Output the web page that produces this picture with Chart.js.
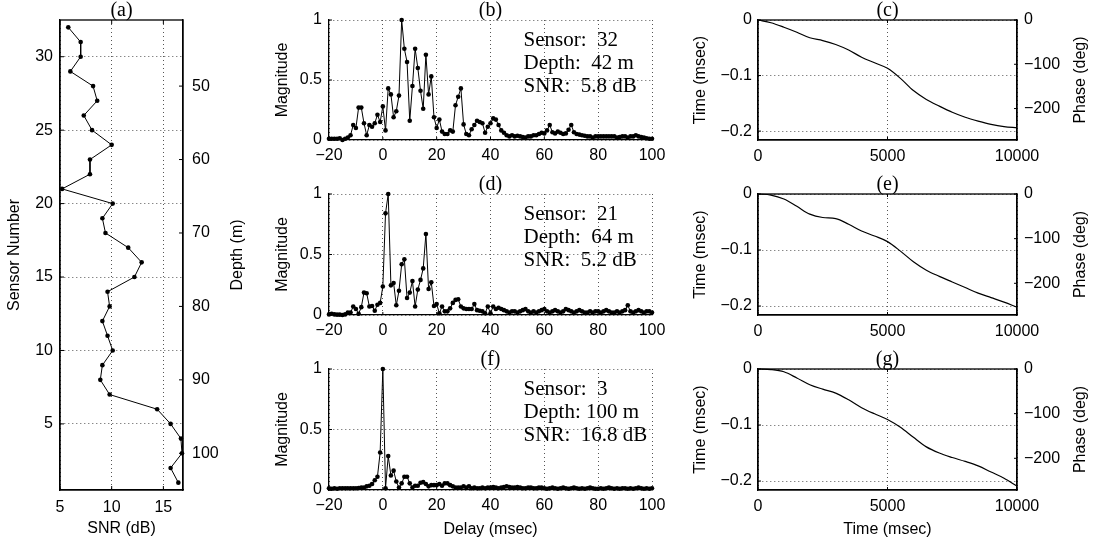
<!DOCTYPE html>
<html>
<head>
<meta charset="utf-8">
<script src="https://cdn.jsdelivr.net/npm/chart.js@4.4.1/dist/chart.umd.min.js"></script>
<style>
  body { margin: 0; background: #fff; width: 1097px; height: 544px; position: relative; overflow: hidden; }
  canvas { position: absolute; left: 0; top: 0; }
</style>
</head>
<body>
<canvas id="ca" width="1097" height="544"></canvas>
<canvas id="cb" width="1097" height="544"></canvas>
<canvas id="cd" width="1097" height="544"></canvas>
<canvas id="cf" width="1097" height="544"></canvas>
<canvas id="cc" width="1097" height="544"></canvas>
<canvas id="ce" width="1097" height="544"></canvas>
<canvas id="cg" width="1097" height="544"></canvas>
<script>
// ---- data ----
const sensors = [32, 31, 30, 29, 28, 27, 26, 25, 24, 23, 22, 21, 20, 19, 18, 17,
                 16, 15, 14, 13, 12, 11, 10, 9, 8, 7, 6, 5, 4, 3, 2, 1];
const snrDb = [5.8, 7.0, 7.0, 6.0, 8.2, 8.6, 7.3, 8.1, 10.0, 7.9, 7.9, 5.2, 10.1, 9.1, 9.4, 11.6,
               12.9, 12.2, 9.6, 9.8, 9.1, 9.6, 10.1, 9.1, 8.9, 9.8, 14.4, 15.7, 16.7, 16.8, 15.7, 16.45];

// delay axis, 1 msec sampling from -20 to 100
const delays = Array.from({ length: 121 }, (_, i) => i - 20);

const magB = [
  0.01, 0.01, 0.01, 0.01, 0.015, 0.0, 0.01, 0.02, 0.04, 0.125,   // -20
  0.10, 0.27, 0.27, 0.14, 0.04, 0.125, 0.11, 0.14, 0.21, 0.15,    // -10
  0.28, 0.08, 0.43, 0.38, 0.19, 0.24, 0.37, 1.0, 0.76, 0.65,      // 0
  0.16, 0.45, 0.76, 0.6, 0.41, 0.26, 0.71, 0.38, 0.53, 0.19,      // 10
  0.10, 0.17, 0.07, 0.05, 0.05, 0.08, 0.07, 0.29, 0.36, 0.43,     // 20
  0.13, 0.05, 0.04, 0.09, 0.125, 0.16, 0.15, 0.14, 0.06, 0.11,    // 30
  0.14, 0.18, 0.17, 0.125, 0.08, 0.06, 0.04, 0.03, 0.04, 0.03,    // 40
  0.035, 0.03, 0.025, 0.02, 0.03, 0.03, 0.04, 0.04, 0.05, 0.06,   // 50
  0.055, 0.08, 0.125, 0.065, 0.055, 0.07, 0.06, 0.05, 0.055, 0.085, // 60
  0.125, 0.065, 0.05, 0.045, 0.04, 0.035, 0.03, 0.03, 0.02, 0.03, // 70
  0.03, 0.03, 0.03, 0.03, 0.03, 0.03, 0.03, 0.02, 0.025, 0.03,    // 80
  0.03, 0.02, 0.03, 0.03, 0.04, 0.03, 0.025, 0.02, 0.015, 0.01,   // 90
  0.01                                                            // 100
];
const magD = [
  0.005, 0.01, 0.005, 0.003, 0.003, 0.0, 0.005, 0.02, 0.02, 0.07,
  0.05, 0.01, 0.065, 0.185, 0.18, 0.07, 0.075, 0.035, 0.085, 0.10,
  0.235, 0.84, 1.0, 0.245, 0.265, 0.08, 0.2, 0.42, 0.46, 0.14,
  0.185, 0.28, 0.07, 0.21, 0.29, 0.385, 0.67, 0.215, 0.27, 0.075,
  0.09, 0.015, 0.07, 0.03, 0.03, 0.055, 0.10, 0.125, 0.13, 0.07,
  0.055, 0.05, 0.05, 0.05, 0.09, 0.04, 0.035, 0.03, 0.015, 0.07,
  0.015, 0.07, 0.05, 0.06, 0.05, 0.04, 0.03, 0.02, 0.03, 0.03,
  0.02, 0.03, 0.04, 0.05, 0.03, 0.02, 0.03, 0.02, 0.03, 0.04,
  0.05, 0.03, 0.02, 0.03, 0.04, 0.03, 0.02, 0.03, 0.05, 0.04,
  0.03, 0.02, 0.03, 0.04, 0.03, 0.02, 0.02, 0.03, 0.02, 0.03,
  0.03, 0.02, 0.03, 0.04, 0.03, 0.02, 0.02, 0.03, 0.02, 0.03,
  0.04, 0.08, 0.03, 0.02, 0.03, 0.04, 0.03, 0.02, 0.03, 0.03,
  0.02
];
const magF = [
  0.015, 0.01, 0.015, 0.01, 0.015, 0.015, 0.015, 0.015, 0.015, 0.015,
  0.015, 0.017, 0.02, 0.02, 0.03, 0.035, 0.05, 0.08, 0.11, 0.31,
  1.0, 0.015, 0.28, 0.12, 0.16, 0.07, 0.02, 0.055, 0.11, 0.11,
  0.055, 0.02, 0.035, 0.035, 0.06, 0.065, 0.05, 0.03, 0.04, 0.04,
  0.04, 0.05, 0.035, 0.055, 0.055, 0.04, 0.03, 0.02, 0.02, 0.02,
  0.03, 0.02, 0.03, 0.015, 0.02, 0.015, 0.015, 0.02, 0.015, 0.02,
  0.02, 0.025, 0.02, 0.015, 0.02, 0.025, 0.03, 0.025, 0.02, 0.02,
  0.025, 0.02, 0.015, 0.015, 0.02, 0.02, 0.015, 0.015, 0.02, 0.02,
  0.015, 0.01, 0.015, 0.02, 0.015, 0.01, 0.015, 0.02, 0.015, 0.01,
  0.015, 0.02, 0.015, 0.01, 0.015, 0.01, 0.015, 0.02, 0.015, 0.01,
  0.01, 0.015, 0.01, 0.015, 0.02, 0.015, 0.01, 0.015, 0.01, 0.015,
  0.015, 0.01, 0.015, 0.01, 0.015, 0.02, 0.015, 0.01, 0.015, 0.01,
  0.015
];

const freqs = [0, 500, 1000, 1500, 2000, 2500, 3000, 3500, 4000, 4500, 5000,
               5500, 6000, 6500, 7000, 7500, 8000, 8500, 9000, 9500, 10000];
const timeC = [0, -0.005, -0.013, -0.022, -0.032, -0.037, -0.044, -0.054, -0.067, -0.077, -0.087,
               -0.105, -0.127, -0.143, -0.155, -0.166, -0.175, -0.182, -0.188, -0.192, -0.194];
const timeE = [0, -0.002, -0.009, -0.022, -0.036, -0.042, -0.044, -0.054, -0.066, -0.075, -0.085,
               -0.102, -0.121, -0.136, -0.147, -0.157, -0.167, -0.177, -0.185, -0.193, -0.202];
const timeG = [0, -0.001, -0.005, -0.016, -0.028, -0.036, -0.043, -0.055, -0.069, -0.080, -0.090,
               -0.104, -0.122, -0.139, -0.150, -0.158, -0.165, -0.173, -0.184, -0.195, -0.209];

const notesB = ['Sensor:  32', 'Depth:  42 m', 'SNR:  5.8 dB'];
const notesD = ['Sensor:  21', 'Depth:  64 m', 'SNR:  5.2 dB'];
const notesF = ['Sensor:  3', 'Depth: 100 m', 'SNR:  16.8 dB'];

const snrTicks = [5, 10, 15];
const sensorTicks = [5, 10, 15, 20, 25, 30];
const depthTicks = [50, 60, 70, 80, 90, 100];
const delayTicks = [-20, 0, 20, 40, 60, 80, 100];
const magTicks = [0, 0.5, 1];
const freqTicks = [0, 5000, 10000];
const timeTicks = [0, -0.1, -0.2];
const phaseTicks = [0, -100, -200];

// ---- styling helpers ----
const W = 1097;
const H = 544;
const sans = '"Liberation Sans", Arial, sans-serif';
const serif = '"Liberation Serif", "Times New Roman", serif';
const font16 = { family: sans, size: 16 };

// frame, inward tick marks, panel letter, notes and the right-hand axis title
const extras = {
  id: 'extras',
  afterDraw(chart, args, o) {
    const { ctx, chartArea: a, scales } = chart;
    ctx.save();
    ctx.fillStyle = '#000';
    ctx.strokeStyle = '#000';
    if (o.frame) {
      ctx.lineWidth = 1.3;
      ctx.strokeRect(a.left, a.top, a.right - a.left, a.bottom - a.top);
    }
    // MATLAB style ticks, pointing into the plot
    const len = o.tickLen || 4;
    ctx.lineWidth = 1;
    ctx.beginPath();
    scales.x.ticks.forEach(t => {
      const px = scales.x.getPixelForValue(t.value);
      ctx.moveTo(px, a.bottom); ctx.lineTo(px, a.bottom - len);
      if (o.frame) { ctx.moveTo(px, a.top); ctx.lineTo(px, a.top + len); }
    });
    scales.y.ticks.forEach(t => {
      const py = scales.y.getPixelForValue(t.value);
      ctx.moveTo(a.left, py); ctx.lineTo(a.left + len, py);
    });
    if (scales.y2) {
      scales.y2.ticks.forEach(t => {
        const py = scales.y2.getPixelForValue(t.value);
        ctx.moveTo(a.right, py); ctx.lineTo(a.right - len, py);
      });
    }
    ctx.stroke();

    if (o.label) {
      ctx.font = '20px ' + serif;
      ctx.textAlign = 'center';
      ctx.textBaseline = 'middle';
      ctx.fillText(o.label, (a.left + a.right) / 2, a.top - 9);
    }
    if (o.notes) {
      ctx.font = '21px ' + serif;
      ctx.textAlign = 'left';
      ctx.textBaseline = 'middle';
      o.notes.forEach((t, i) => {
        ctx.fillText(t, scales.x.getPixelForValue(o.noteX), scales.y.getPixelForValue(o.noteY[i]));
      });
    }
    if (o.rightTitle && scales.y2) {
      ctx.font = '16px ' + sans;
      ctx.textAlign = 'center';
      ctx.textBaseline = 'middle';
      ctx.translate(scales.y2.right - 9.6 - o.rightPad, (a.top + a.bottom) / 2);
      ctx.rotate(-Math.PI / 2);
      ctx.fillText(o.rightTitle, 0, 0);
    }
    ctx.restore();
  }
};
Chart.register(extras);

function axis(p) {
  return {
    type: 'linear',
    position: p.position,
    min: p.min,
    max: p.max,
    reverse: !!p.reverse,
    afterFit: s => { if (s.isHorizontal()) s.height = p.size; else s.width = p.size; },
    afterBuildTicks: s => { s.ticks = p.ticks.map(v => ({ value: v })); },
    ticks: {
      font: font16, color: '#000', padding: p.pad, maxRotation: 0, autoSkip: false,
      callback: v => String(v).replace('-', '\u2212')
    },
    grid: { display: p.grid !== false, drawOnChartArea: p.grid !== false, color: '#555', lineWidth: 1, drawTicks: false },
    border: { display: p.border !== false, color: '#000', width: 1.3, dash: [1, 3] },
    title: {
      display: !!p.title, text: p.title || '', font: font16, color: '#000',
      padding: { top: p.titlePad || 0, bottom: p.titlePad || 0 }
    }
  };
}

const dotLine = {
  showLine: true, borderColor: '#000', backgroundColor: '#000', borderWidth: 1,
  pointRadius: 2.3, pointBackgroundColor: '#000', pointBorderWidth: 0, clip: false
};
const smoothLine = {
  showLine: true, borderColor: '#000', borderWidth: 1.2, pointRadius: 0,
  cubicInterpolationMode: 'monotone', clip: false
};

function baseOptions(padding, scales, extra) {
  return {
    responsive: false, animation: false, events: [],
    layout: { padding },
    scales,
    plugins: { legend: { display: false }, tooltip: { enabled: false }, extras: extra }
  };
}

// ---- (a) SNR per sensor ----
new Chart(document.getElementById('ca'), {
  type: 'scatter',
  data: { datasets: [{ data: sensors.map((s, i) => ({ x: snrDb[i], y: s })), ...dotLine }] },
  options: baseOptions(
    { left: 0, top: 20, right: W - 183 - 70, bottom: 0 },
    {
      x: axis({ position: 'bottom', min: 5, max: 16.9, ticks: snrTicks, size: 54, pad: 8, title: 'SNR (dB)', titlePad: 6 }),
      y: axis({ position: 'left', min: 0.5, max: 32.5, ticks: sensorTicks, size: 60, pad: 7, title: 'Sensor Number', titlePad: 5 }),
      y2: axis({ position: 'right', min: 41, max: 105, reverse: true, ticks: depthTicks, size: 70, pad: 9, grid: false })
    },
    { frame: true, label: '(a)', tickLen: 4, rightTitle: 'Depth (m)', rightPad: 6 }
  )
});

// ---- (b), (d), (f) magnitude vs delay ----
function magChart(id, mag, notes, label, top, bottom, last) {
  const hb = last ? 54 : 30;
  new Chart(document.getElementById(id), {
    type: 'scatter',
    data: { datasets: [{ data: delays.map((d, i) => ({ x: d, y: mag[i] })), ...dotLine }] },
    options: baseOptions(
      { left: 329 - 69, top: top, right: W - 652, bottom: H - bottom - hb },
      {
        x: axis({ position: 'bottom', min: -20, max: 100, ticks: delayTicks, size: hb, pad: 6,
                  title: last ? 'Delay (msec)' : '', titlePad: 5 }),
        y: axis({ position: 'left', min: 0, max: 1, ticks: magTicks, size: 69, pad: 7, title: 'Magnitude', titlePad: 13 })
      },
      { label: label, notes: notes, noteX: 52.3, noteY: [0.83, 0.64, 0.45], tickLen: 3 }
    )
  });
}
magChart('cb', magB, notesB, '(b)', 20, 140, false);
magChart('cd', magD, notesD, '(d)', 194, 315, false);
magChart('cf', magF, notesF, '(f)', 369, 490, true);

// ---- (c), (e), (g) time / phase vs time ----
function phaseChart(id, times, label, top, bottom, last) {
  const hb = last ? 54 : 30;
  new Chart(document.getElementById(id), {
    type: 'scatter',
    data: { datasets: [{ data: freqs.map((f, i) => ({ x: f, y: times[i] })), ...smoothLine }] },
    options: baseOptions(
      { left: 758 - 88, top: top, right: 0, bottom: H - bottom - hb },
      {
        x: axis({ position: 'bottom', min: 0, max: 10000, ticks: freqTicks, size: hb, pad: 7,
                  title: last ? 'Time (msec)' : '', titlePad: 5 }),
        y: axis({ position: 'left', min: -0.216, max: 0, ticks: timeTicks, size: 88, pad: 6, title: 'Time (msec)', titlePad: 21 }),
        y2: axis({ position: 'right', min: -271, max: 0, ticks: phaseTicks, size: 80, pad: 7, grid: false })
      },
      { frame: true, label: label, tickLen: 3, rightTitle: 'Phase (deg)', rightPad: 7 }
    )
  });
}
phaseChart('cc', timeC, '(c)', 20, 140, false);
phaseChart('ce', timeE, '(e)', 194, 315, false);
phaseChart('cg', timeG, '(g)', 369, 490, true);
</script>
</body>
</html>
